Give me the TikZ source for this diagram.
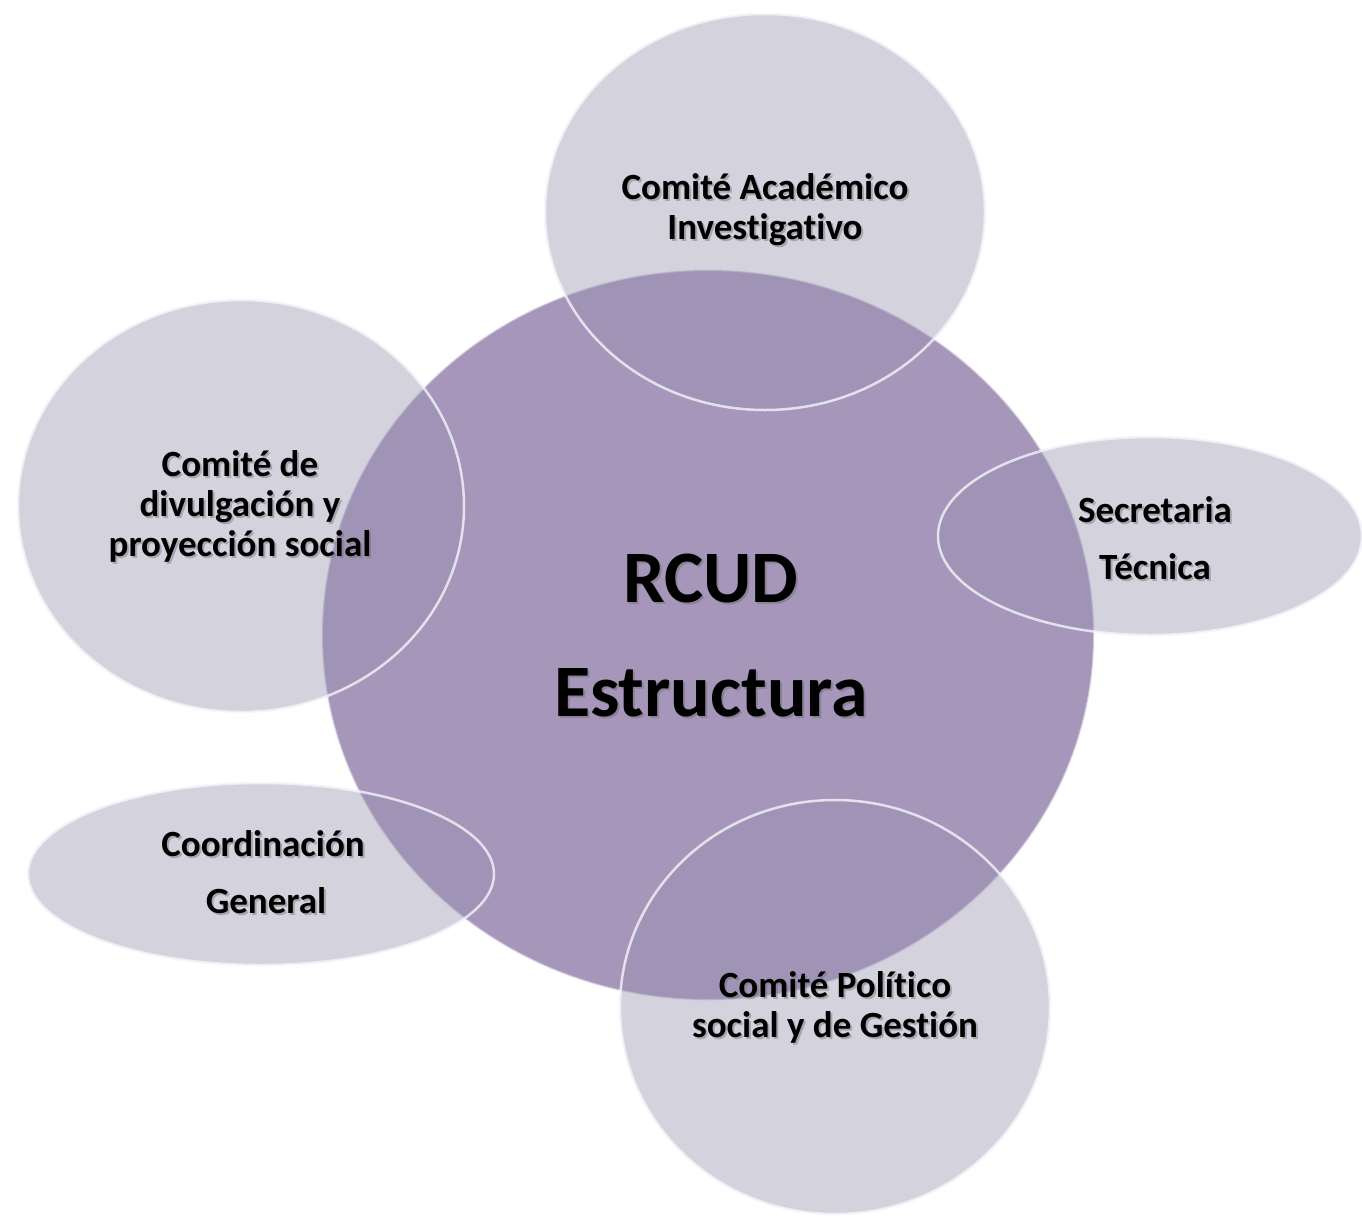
\documentclass[tikz,border=0pt]{standalone}
\usepackage{fontspec}
\setmainfont{Carlito}[Ligatures=NoCommon]
\usetikzlibrary{shapes.geometric}
\definecolor{sat}{RGB}{151,147,175}
\definecolor{core}{RGB}{166,150,186}
\definecolor{rim}{RGB}{245,244,250}
\tikzset{
  bubble/.style={ellipse, inner sep=0pt, fill=sat, fill opacity=0.42, draw=rim, draw opacity=0.8, line width=2.5pt},
  corebubble/.style={ellipse, inner sep=0pt, fill=core, draw=rim, draw opacity=0.5, line width=2pt},
  lbl/.style={align=center, font=\bfseries\fontsize{37}{40}\selectfont, text=black},
  lblwide/.style={align=center, font=\bfseries\fontsize{37}{57}\selectfont, text=black},
  lblbig/.style={align=center, font=\bfseries\fontsize{74}{114}\selectfont, text=black},
  shadowed/.style={text=black!60, text opacity=0.4},
}
\begin{document}
\begin{tikzpicture}[x=1pt,y=-1pt]
\useasboundingbox (0,0) rectangle (1362,1219);
% central
\node[corebubble, minimum width=772pt, minimum height=730pt] (core) at (708,635) {};
% satellites
\node[bubble, minimum width=440pt, minimum height=396pt] (acad) at (765,212) {};
\node[bubble, minimum width=446pt, minimum height=412pt] (divul) at (241,506) {};
\node[bubble, minimum width=424pt, minimum height=198pt] (secr) at (1150,536) {};
\node[bubble, minimum width=466pt, minimum height=182pt] (coord) at (261,874) {};
\node[bubble, minimum width=430pt, minimum height=414pt] (polit) at (835,1007) {};
% text shadows
\node[lbl, shadowed] (acadS) at (767,212) {Comité Académico\\Investigativo};
\node[lbl, shadowed] (divulS) at (242,508) {Comité de\\divulgación y\\proyección social};
\node[lblwide, shadowed] (secrS) at (1157,540) {Secretaria\\Técnica};
\node[lblwide, shadowed] (coordS) at (265,874) {Coordinación\\\hspace*{6pt}General};
\node[lbl, shadowed] (politS) at (837,1009) {Comité Político\\social y de Gestión};
\node[lblbig, shadowed] (coreS) at (713,637) {RCUD\\Estructura};
% text
\node[lbl] (acadT) at (765,210) {Comité Académico\\Investigativo};
\node[lbl] (divulT) at (240,506) {Comité de\\divulgación y\\proyección social};
\node[lblwide] (secrT) at (1155,538) {Secretaria\\Técnica};
\node[lblwide] (coordT) at (263,872) {Coordinación\\\hspace*{6pt}General};
\node[lbl] (politT) at (835,1007) {Comité Político\\social y de Gestión};
\node[lblbig] (coreT) at (711,635) {RCUD\\Estructura};
\end{tikzpicture}
\end{document}
